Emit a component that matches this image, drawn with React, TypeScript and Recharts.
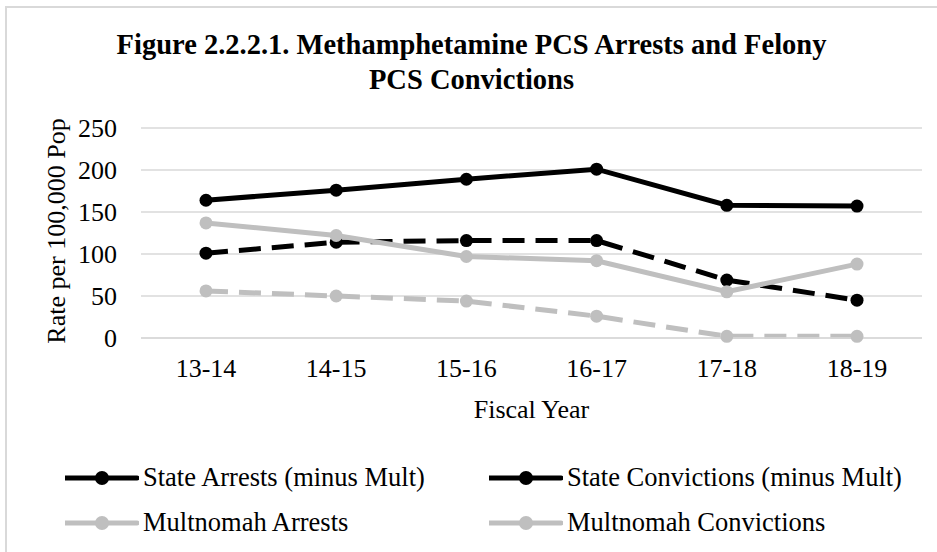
import React from 'react';
import { CartesianGrid, Line, LineChart, XAxis, YAxis } from 'recharts';

const years = ['13-14', '14-15', '15-16', '16-17', '17-18', '18-19'];
const stateArrests = [164, 176, 189, 201, 158, 157];
const stateConvictions = [101, 114, 116, 116, 69, 45];
const multArrests = [137, 122, 97, 92, 55, 88];
const multConvictions = [56, 50, 44, 26, 2, 2];
const yTicks = [0, 50, 100, 150, 200, 250];

const data = years.map((year, i) => ({
  year,
  stateArrests: stateArrests[i],
  stateConvictions: stateConvictions[i],
  multArrests: multArrests[i],
  multConvictions: multConvictions[i],
}));

const BLACK = '#000000';
const GRAY = '#bfbfbf';
const FONT = '"Liberation Serif", "Times New Roman", serif';

const series = [
  { key: 'stateArrests', name: 'State Arrests (minus Mult)', color: BLACK, dash: undefined },
  { key: 'stateConvictions', name: 'State Convictions (minus Mult)', color: BLACK, dash: '22 11' },
  { key: 'multArrests', name: 'Multnomah Arrests', color: GRAY, dash: undefined },
  { key: 'multConvictions', name: 'Multnomah Convictions', color: GRAY, dash: '22 11' },
];

const LegendBox = () => (
  <div style={{ position: 'absolute', left: 0, top: 455, width: 937, fontFamily: FONT, fontSize: 26.5, color: '#000' }}>
    {[0, 1].map((row) => (
      <div key={row} style={{ display: 'flex', height: 45, alignItems: 'center' }}>
        {[0, 1].map((col) => {
          const s = series[row * 2 + col];
          return (
            <div
              key={s.key}
              style={{
                display: 'flex', alignItems: 'center', whiteSpace: 'nowrap', flexShrink: 0,
                marginLeft: col === 0 ? 65 : 0, width: col === 0 ? 424 : 440,
              }}
            >
              <svg width={74} height={20} style={{ marginRight: 4, flexShrink: 0 }}>
                <line x1={0} y1={10} x2={72} y2={10} stroke={s.color} strokeWidth={5} strokeLinecap="round" />
                <circle cx={37} cy={10} r={7} fill={s.color} />
              </svg>
              <span>{s.name}</span>
            </div>
          );
        })}
      </div>
    ))}
  </div>
);

export default function App() {
  return (
    <div
      style={{
        position: 'absolute', left: 0, top: 0, width: 937, height: 552,
        background: '#fff', fontFamily: FONT, overflow: 'hidden',
      }}
    >
      <div
        style={{
          position: 'absolute', left: 5, top: 6, width: 960, height: 580,
          border: '2px solid #d9d9d9', boxSizing: 'border-box',
        }}
      />
      <div
        style={{
          position: 'absolute', left: 3, top: 27, width: 937, textAlign: 'center',
          fontSize: 28.5, fontWeight: 'bold', lineHeight: '35px',
        }}
      >
        Figure 2.2.2.1. Methamphetamine PCS Arrests and Felony
        <br />
        PCS Convictions
      </div>
      <LineChart
        width={937}
        height={552}
        data={data}
        margin={{ top: 128, right: 15, bottom: 174, left: 0 }}
        style={{ position: 'absolute', left: 0, top: 0 }}
      >
        <CartesianGrid vertical={false} stroke="#d9d9d9" strokeWidth={1.5} />
        <XAxis
          dataKey="year"
          height={40}
          padding={{ left: 65, right: 65 }}
          tickLine={false}
          axisLine={{ stroke: '#d9d9d9', strokeWidth: 1.5 }}
          tick={{ fill: '#000', fontSize: 26, fontFamily: FONT }}
          tickMargin={15}
          label={{ value: 'Fiscal Year', position: 'bottom', offset: 22, fill: '#000', fontSize: 26, fontFamily: FONT }}
        />
        <YAxis
          width={141}
          domain={[0, 250]}
          ticks={yTicks}
          tickLine={false}
          axisLine={false}
          tick={{ fill: '#000', fontSize: 26, fontFamily: FONT }}
          tickMargin={18}
          label={{
            content: () => (
              <text
                x={56}
                y={231}
                transform="rotate(-90 56 231)"
                textAnchor="middle"
                dominantBaseline="central"
                fontSize={26}
                fontFamily={FONT}
                fill="#000"
              >
                Rate per 100,000 Pop
              </text>
            ),
          }}
        />
        {series.map((s) => (
          <Line
            key={s.key}
            dataKey={s.key}
            name={s.name}
            stroke={s.color}
            strokeWidth={5}
            strokeDasharray={s.dash}
            dot={{ r: 6.5, fill: s.color, stroke: 'none' }}
            activeDot={false}
            isAnimationActive={false}
          />
        ))}
      </LineChart>
      <LegendBox />
    </div>
  );
}
